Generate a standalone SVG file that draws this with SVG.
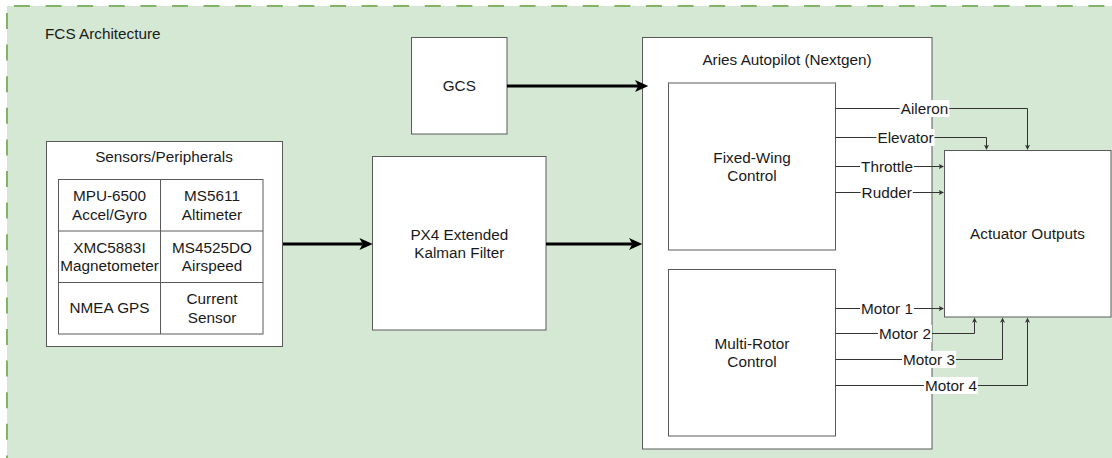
<svg xmlns="http://www.w3.org/2000/svg" width="1112" height="458" viewBox="0 0 1112 458">
  <style>
    text { font-family: "Liberation Sans", Arial, sans-serif; font-size: 15.3px; fill: #1a1a1a; }
    .mid { text-anchor: middle; }
    .box { fill: #ffffff; stroke: #5a5a5a; stroke-width: 1; }
    .grid { fill: none; stroke: #5a5a5a; stroke-width: 1; }
    .border { fill: none; stroke: #82b366; stroke-width: 2; stroke-dasharray: 16 15.6; stroke-dashoffset: 24.6; }
    .thick { fill: none; stroke: #000000; stroke-width: 3; marker-end: url(#bigArrow); }
    .thin { fill: none; stroke: #333333; stroke-width: 1; }
    .thinArrow { marker-end: url(#smallArrow); }
    .lblbg { fill: #ffffff; stroke: none; }
  </style>
  <defs>
    <marker id="bigArrow" markerUnits="userSpaceOnUse" viewBox="0 0 14 12" markerWidth="14" markerHeight="12" refX="3.3" refY="6" orient="auto">
      <path d="M0,0 L13.3,6 L0,12 L3.3,6 Z" fill="#000000"/>
    </marker>
    <marker id="smallArrow" markerUnits="userSpaceOnUse" viewBox="0 0 6 6" markerWidth="6" markerHeight="6" refX="1.2" refY="3" orient="auto">
      <path d="M0,0.5 L5.2,3 L0,5.5 L1.2,3 Z" fill="#333333"/>
    </marker>
  </defs>

  <rect x="0" y="0" width="1112" height="458" fill="#ffffff"/>

  <!-- FCS container -->
  <g id="fcs-container">
    <rect x="7" y="6" width="1120" height="470" fill="#d5e8d4"/>
    <line class="border" x1="7" y1="6" x2="1112" y2="6"/>
    <line class="border" x1="7" y1="6" x2="7" y2="458"/>
    <text x="45" y="39">FCS Architecture</text>
  </g>

  <!-- Sensors / peripherals -->
  <g id="sensors">
    <rect class="box" x="46.5" y="141.5" width="236" height="205"/>
    <text class="mid" x="164" y="162">Sensors/Peripherals</text>
    <rect class="grid" x="58.5" y="179.5" width="204.5" height="154.5"/>
    <line class="grid" x1="160.5" y1="179.5" x2="160.5" y2="334"/>
    <line class="grid" x1="58.5" y1="231" x2="263" y2="231"/>
    <line class="grid" x1="58.5" y1="282.5" x2="263" y2="282.5"/>
    <text class="mid" x="109.5" y="201.2">MPU-6500</text>
    <text class="mid" x="109.5" y="219.6">Accel/Gyro</text>
    <text class="mid" x="212" y="201.2">MS5611</text>
    <text class="mid" x="212" y="219.6">Altimeter</text>
    <text class="mid" x="109.5" y="252.7">XMC5883I</text>
    <text class="mid" x="109.5" y="271.1">Magnetometer</text>
    <text class="mid" x="212" y="252.7">MS4525DO</text>
    <text class="mid" x="212" y="271.1">Airspeed</text>
    <text class="mid" x="109.5" y="313.2">NMEA GPS</text>
    <text class="mid" x="212" y="304.2">Current</text>
    <text class="mid" x="212" y="322.6">Sensor</text>
  </g>

  <!-- Estimator -->
  <g id="ekf">
    <rect class="box" x="372.5" y="156.5" width="173.5" height="173.5"/>
    <text class="mid" x="459.3" y="239.5">PX4 Extended</text>
    <text class="mid" x="459.3" y="257.9">Kalman Filter</text>
  </g>

  <!-- Ground control station -->
  <g id="gcs">
    <rect class="box" x="411.5" y="37.5" width="95.5" height="96.5"/>
    <text class="mid" x="459.3" y="91.4">GCS</text>
  </g>

  <!-- Autopilot with its two controllers -->
  <g id="autopilot">
    <rect class="box" x="642.5" y="37.5" width="289.5" height="411.5"/>
    <text class="mid" x="787" y="65">Aries Autopilot (Nextgen)</text>
  </g>
  <g id="fixed-wing">
    <rect class="box" x="668.5" y="83" width="167" height="167"/>
    <text class="mid" x="752" y="162.7">Fixed-Wing</text>
    <text class="mid" x="752" y="181.1">Control</text>
  </g>
  <g id="multi-rotor">
    <rect class="box" x="668.5" y="269.5" width="167" height="166.5"/>
    <text class="mid" x="752" y="348.6">Multi-Rotor</text>
    <text class="mid" x="752" y="367">Control</text>
  </g>

  <!-- Actuator outputs -->
  <g id="actuators">
    <rect class="box" x="944.5" y="150.5" width="166.5" height="166.5"/>
    <text class="mid" x="1027.5" y="239">Actuator Outputs</text>
  </g>

  <!-- Connectors -->
  <g id="connectors">
    <line class="thick" x1="283" y1="244" x2="362.7" y2="244"/>
    <line class="thick" x1="546" y1="244" x2="632.3" y2="244"/>
    <line class="thick" x1="507" y1="86" x2="638.3" y2="86"/>

    <path class="thin thinArrow" d="M835.5,108.5 H1027.5 V146"/>
    <path class="thin thinArrow" d="M835.5,137.5 H986.5 V146"/>
    <path class="thin thinArrow" d="M835.5,166.5 H940"/>
    <path class="thin thinArrow" d="M835.5,192.5 H940"/>

    <path class="thin thinArrow" d="M835.5,308.5 H940"/>
    <path class="thin thinArrow" d="M835.5,333.5 H974.5 V321.5"/>
    <path class="thin thinArrow" d="M835.5,359.5 H1002.5 V321.5"/>
    <path class="thin thinArrow" d="M835.5,385.5 H1027.5 V321.5"/>

    <!-- edge labels -->
    <rect class="lblbg" x="899.7" y="100" width="49.6" height="17"/>
    <text class="mid" x="924.5" y="113.9">Aileron</text>
    <rect class="lblbg" x="876.4" y="129" width="58.1" height="17"/>
    <text class="mid" x="905.5" y="142.9">Elevator</text>
    <rect class="lblbg" x="860" y="158" width="53.9" height="17"/>
    <text class="mid" x="887" y="171.9">Throttle</text>
    <rect class="lblbg" x="860.6" y="184" width="52.2" height="17"/>
    <text class="mid" x="886.7" y="197.9">Rudder</text>

    <rect class="lblbg" x="860" y="300" width="53.9" height="17"/>
    <text class="mid" x="887" y="313.9">Motor 1</text>
    <rect class="lblbg" x="878" y="325" width="53.9" height="17"/>
    <text class="mid" x="905" y="338.9">Motor 2</text>
    <rect class="lblbg" x="902" y="351" width="53.9" height="17"/>
    <text class="mid" x="929" y="364.9">Motor 3</text>
    <rect class="lblbg" x="924" y="377" width="53.9" height="17"/>
    <text class="mid" x="951" y="390.9">Motor 4</text>
  </g>
</svg>
